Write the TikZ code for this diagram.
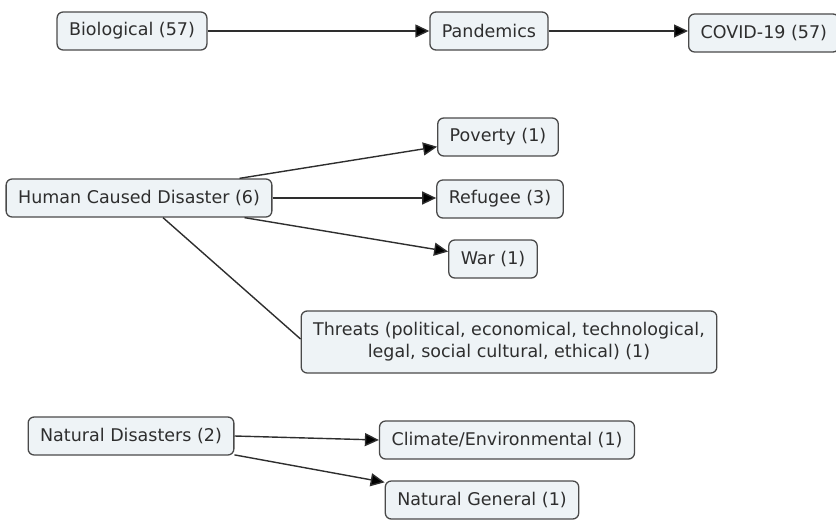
\documentclass[tikz,border=0pt]{standalone}
\usepackage{fontspec}
\setmainfont{DejaVu Sans}
\usetikzlibrary{arrows.meta}

\definecolor{boxfill}{HTML}{EEF3F6}
\definecolor{boxline}{HTML}{4A4A4A}
\definecolor{inkgray}{HTML}{2E2E2E}

\tikzstyle{concept} = [
        draw=boxline, fill=boxfill, rectangle, rounded corners=6pt,
        line width=1.3pt, text=inkgray, minimum height=38pt,
        inner xsep=12pt, font=\fontsize{17.5}{22}\selectfont
    ]
\tikzstyle{link} = [
        draw=inkgray, line width=1.4pt,
        -{Triangle[length=14pt, width=13pt, fill=black]}
    ]
\tikzstyle{plain} = [draw=inkgray, line width=1.4pt]

\begin{document}
\begin{tikzpicture}[x=1pt, y=-1pt]
        \useasboundingbox (0,0) rectangle (836,520);
        \node [concept] (bio) at (132,31) {Biological (57)};
        \node [concept] (pand) at (489,31) {Pandemics};
        \node [concept, anchor=west] (covid) at (688,33) {COVID-19 (57)};
        \node [concept] (hcd) at (139,198) {Human Caused Disaster (6)};
        \node [concept] (pov) at (498,137) {Poverty (1)};
        \node [concept] (ref) at (500,199) {Refugee (3)};
        \node [concept] (war) at (493,259) {War (1)};
        \node [concept, align=center, minimum height=62pt] (thr) at (509,342)
            {Threats (political, economical, technological,\\legal, social cultural, ethical) (1)};
        \node [concept] (nat) at (131,436) {Natural Disasters (2)};
        \node [concept] (clim) at (507,440) {Climate/Environmental (1)};
        \node [concept] (gen) at (482,500) {Natural General (1)};
        \draw [link] (bio) -- (pand);
        \draw [link] (pand) -- (covid.west |- pand);
        \draw [link] ([xshift=-33pt]hcd.north east) -- (pov);
        \draw [link] (hcd) -- (ref.west |- hcd);
        \draw [link] ([xshift=-28pt]hcd.south east) -- (war);
        \draw [plain] ([xshift=24pt]hcd.south) -- ([yshift=3pt]thr.west);
        \draw [link] (nat.east) -- (clim.west);
        \draw [link] (nat) -- (gen);
    \end{tikzpicture}
\end{document}
